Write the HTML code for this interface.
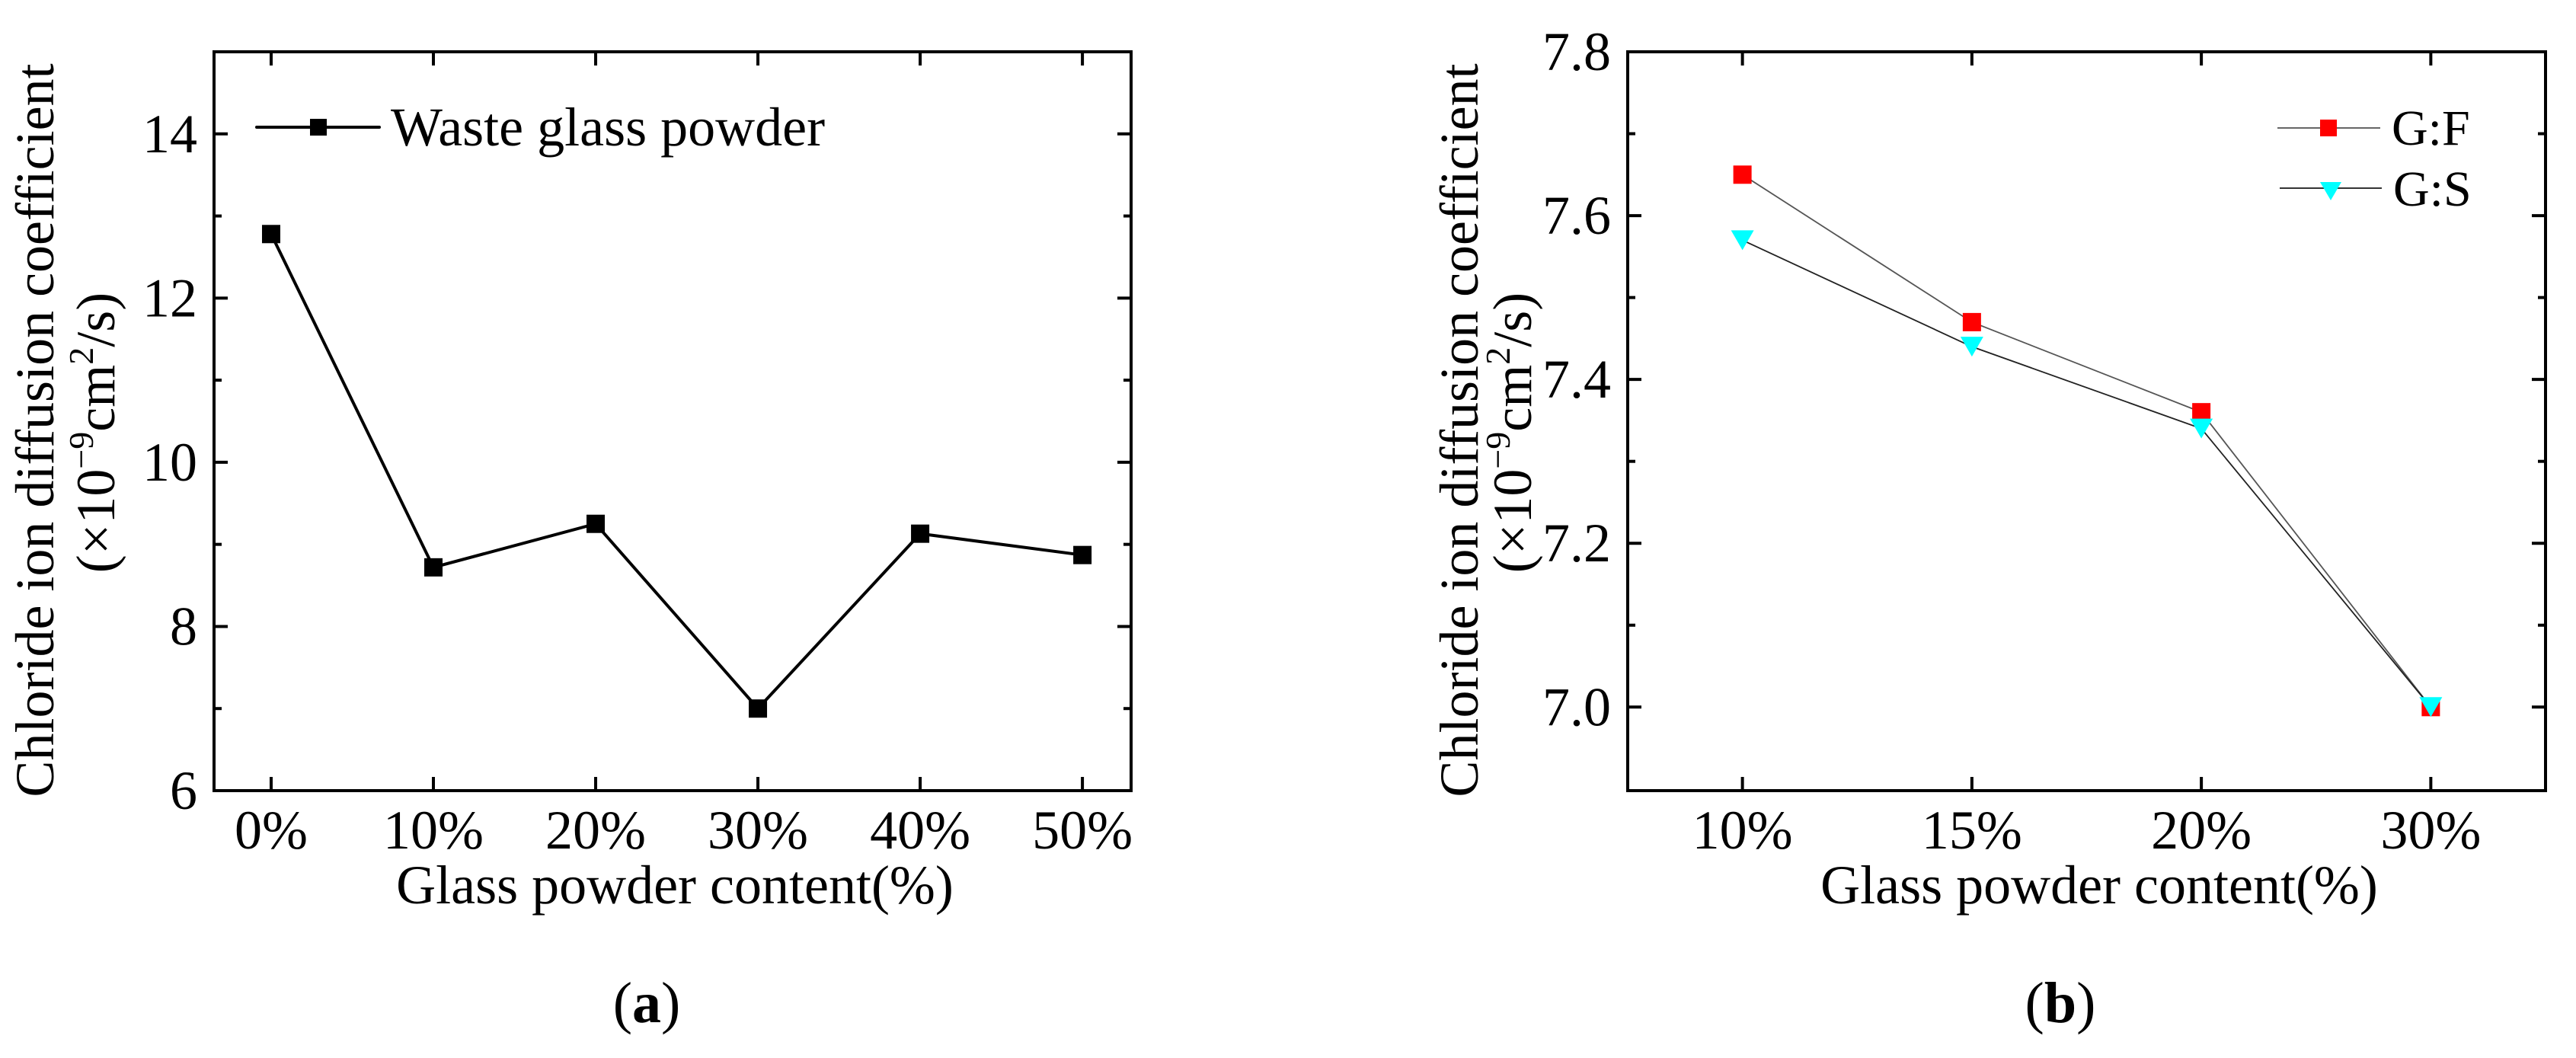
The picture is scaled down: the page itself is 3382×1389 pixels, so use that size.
<!DOCTYPE html>
<html><head><meta charset="utf-8"><style>
html,body{margin:0;padding:0;background:#fff}
svg{display:block}
svg text{font-family:"Liberation Serif","DejaVu Serif",serif !important;fill:#000}
</style></head><body>
<svg id="fig" width="3382" height="1389" viewBox="0 0 3382 1389" font-family="Liberation Serif, DejaVu Serif, serif">
<g id="pa"></g>
<g id="pb"></g>
</svg>
<script>
const catsA = ["0%","10%","20%","30%","40%","50%"];
const valsA = [12.78, 8.72, 9.25, 7.0, 9.13, 8.87];
const yTicksA = [6, 8, 10, 12, 14];
const yMinorA = [7, 9, 11, 13, 15];
const catsB = ["10%","15%","20%","30%"];
const valsGF = [7.65, 7.47, 7.36, 7.0];
const valsGS = [7.57, 7.44, 7.34, 7.0];
const yTicksB = [7.0, 7.2, 7.4, 7.6, 7.8];
const yMinorB = [7.1, 7.3, 7.5, 7.7];

const NS = "http://www.w3.org/2000/svg";
const FF = "Liberation Serif, DejaVu Serif, serif";
function mk(parent, tag, attrs, txt){
  const e = document.createElementNS(NS, tag);
  for (const k in attrs) e.setAttribute(k, attrs[k]);
  if (tag === "text") e.setAttribute("font-family", FF);
  if (txt !== undefined) e.textContent = txt;
  parent.appendChild(e);
  return e;
}

function panel(g, o){
  const sx = i => o.L + (i - o.xmin) / (o.xmax - o.xmin) * (o.R - o.L);
  const sy = v => o.B - (v - o.ymin) / (o.ymax - o.ymin) * (o.B - o.T);
  const sw = 4;
  o.yTicks.forEach(v => {
    const y = sy(v);
    const t1 = mk(g, "line", {x1:o.L, x2:o.L+18, y1:y, y2:y, stroke:"#000","stroke-width":sw});
    
    
    const t2 = mk(g, "line", {x1:o.R, x2:o.R-18, y1:y, y2:y, stroke:"#000","stroke-width":sw});
    
    
    const lb = mk(g, "text", {x:o.L-22, y:y+24, "text-anchor":"end","font-size":72}, o.fmt(v));
    
    
  });
  o.yMinor.forEach(v => {
    const y = sy(v);
    const t1 = mk(g, "line", {x1:o.L, x2:o.L+10, y1:y, y2:y, stroke:"#000","stroke-width":sw});
    
    
    const t2 = mk(g, "line", {x1:o.R, x2:o.R-10, y1:y, y2:y, stroke:"#000","stroke-width":sw});
    
    
  });
  o.cats.forEach((c, i) => {
    const x = sx(i);
    const t1 = mk(g, "line", {x1:x, x2:x, y1:o.B, y2:o.B-18, stroke:"#000","stroke-width":sw});
    
    
    const t2 = mk(g, "line", {x1:x, x2:x, y1:o.T, y2:o.T+18, stroke:"#000","stroke-width":sw});
    
    
    const lb = mk(g, "text", {x:x, y:1114, "text-anchor":"middle","font-size":72}, c);
    
    
  });
  const fr = mk(g, "rect", {x:o.L, y:o.T, width:o.R-o.L, height:o.B-o.T, fill:"none", stroke:"#000","stroke-width":sw});
  
  
  o.series.forEach(s => {
    const pts = s.vals.map((v,i) => sx(i)+","+sy(v)).join(" ");
    const pl = mk(g, "polyline", {points:pts, fill:"none", stroke:s.line, "stroke-width":s.lw});
    
    
    s.vals.forEach((v,i) => {
      const x = sx(i), y = sy(v);
      let m;
      if (s.shape === "sq") m = mk(g, "rect", {x:x-12, y:y-12, width:24, height:24, fill:s.color});
      else m = mk(g, "polygon", {points:(x-15)+","+(y-13)+" "+(x+15)+","+(y-13)+" "+x+","+(y+13), fill:s.color});
      
      
    });
  });
  const xt = mk(g, "text", {x:o.xtX, y:1186, "text-anchor":"middle","font-size":72}, "Glass powder content(%)");
  
  
  const yt = mk(g, "text", {transform:`translate(${o.yt1X},565) rotate(-90)`, "text-anchor":"middle","font-size":72}, "Chloride ion diffusion coefficient");
  
  
  const yu = mk(g, "text", {transform:`translate(${o.yt2X},568) rotate(-90)`, "text-anchor":"middle","font-size":72});
  
  
  mk(yu, "tspan", {}, "(×10");
  mk(yu, "tspan", {"font-size":46, dy:-28}, "−9");
  mk(yu, "tspan", {dy:28}, "cm");
  mk(yu, "tspan", {"font-size":46, dy:-28}, "2");
  mk(yu, "tspan", {dy:28}, "/s)");
  const cap = mk(g, "text", {x:o.capX, y:1342, "text-anchor":"middle","font-size":76});
  
  
  mk(cap, "tspan", {}, "(");
  mk(cap, "tspan", {"font-weight":"bold"}, o.cap);
  mk(cap, "tspan", {}, ")");
}

const ga = document.getElementById("pa");
panel(ga, {L:281, R:1485, T:68, B:1038, xmin:-0.352, xmax:5.3, ymin:6, ymax:15,
  cats:catsA, yTicks:yTicksA, yMinor:yMinorA, fmt:v=>String(v),
  series:[{name:"waste-glass", vals:valsA, color:"#000", line:"#000", lw:4, shape:"sq"}],
  xtX:886, yt1X:70, yt2X:150, capX:849, cap:"a"});
const la = mk(ga, "g", {});


mk(la, "line", {x1:337, x2:498, y1:167, y2:167, stroke:"#000","stroke-width":4,"stroke-linecap":"round"});
mk(la, "rect", {x:407, y:156, width:22, height:22, fill:"#000"});
mk(la, "text", {x:513, y:191, "font-size":72}, "Waste glass powder");

const gb = document.getElementById("pb");
panel(gb, {L:2137, R:3342, T:68, B:1038, xmin:-0.5, xmax:3.5, ymin:6.898, ymax:7.8,
  cats:catsB, yTicks:yTicksB, yMinor:yMinorB, fmt:v=>v.toFixed(1),
  series:[{name:"g-f", vals:valsGF, color:"#ff0000", line:"#555", lw:1.8, shape:"sq"},
          {name:"g-s", vals:valsGS, color:"#00ffff", line:"#222", lw:1.8, shape:"tri"}],
  xtX:2756, yt1X:1940, yt2X:2010, capX:2705, cap:"b"});
const lb1 = mk(gb, "g", {});


mk(lb1, "line", {x1:2990, x2:3125, y1:168, y2:168, stroke:"#666","stroke-width":2});
mk(lb1, "rect", {x:3046, y:157, width:22, height:22, fill:"#ff0000"});
mk(lb1, "text", {x:3140, y:190, "font-size":66}, "G:F");
const lb2 = mk(gb, "g", {});


mk(lb2, "line", {x1:2993, x2:3127, y1:247, y2:247, stroke:"#333","stroke-width":2});
mk(lb2, "polygon", {points:"3046,239 3074,239 3060,263", fill:"#00ffff"});
mk(lb2, "text", {x:3142, y:270, "font-size":66}, "G:S");
</script>
</body></html>
